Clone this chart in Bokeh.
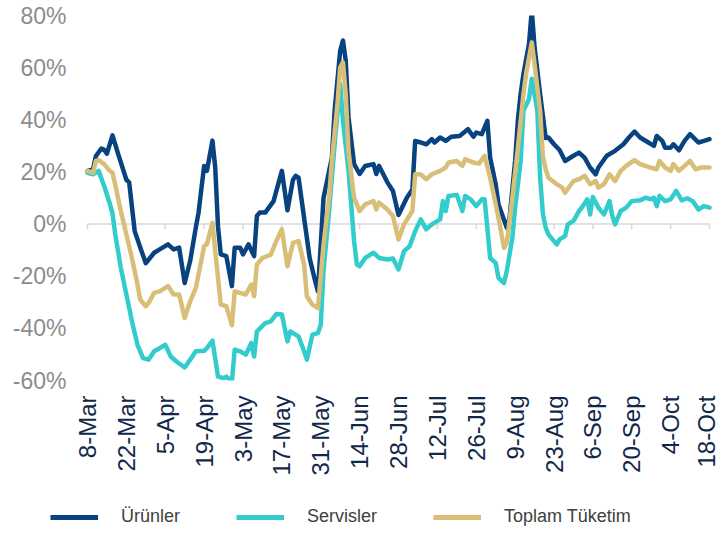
import math
from bokeh.plotting import figure
from bokeh.layouts import column
from bokeh.models import (Range1d, FixedTicker, LinearAxis, Legend, LegendItem, ColumnDataSource)
from bokeh.embed import file_html
from bokeh.resources import INLINE

# ---- data (days since 8-Mar, values in %) ----
urunler_days = [0, 2, 3, 5, 6, 7, 9, 11, 14, 15, 17, 19, 21, 24, 26, 29, 31, 33, 35, 37, 39, 40, 42, 43, 45, 46,
                47, 48, 50, 52, 53, 55, 56, 58, 60, 61, 62, 64, 67, 70, 72, 74, 75, 76, 79, 80, 82, 83, 85, 88,
                89, 91, 92, 93, 94, 96, 98, 100, 103, 104, 105, 108, 110, 112, 115, 117, 118, 120, 122, 124,
                125, 127, 129, 131, 134, 137, 139, 140, 142, 144, 145, 147, 148, 151, 152, 154, 155, 156, 157,
                159, 160, 161, 163, 165, 166, 168, 170, 172, 175, 177, 179, 181, 183, 184, 187, 190, 193, 195,
                197, 199, 202, 204, 205, 207, 208, 210, 211, 213, 215, 217, 220, 222, 224]
urunler_vals = [20.4, 21, 26, 29, 28.5, 27, 34, 27, 17, 16, -2.7, -9, -15, -11, -9.7, -7.8, -9.7, -9, -22.6, -14,
                -1.4, 4.4, 22.3, 20.4, 32, 21.7, -1, -11.6, -12.3, -23.8, -9.1, -9.1, -11.6, -7.8, -12.3, 3.1,
                4.4, 4.4, 8.8, 20.4, 5.3, 17, 18.5, 17.8, -5.3, -13, -21.9, -25.8, 10, 25.5, 43.5, 66.5, 70.4,
                62.7, 40.9, 23, 19.2, 22.3, 23, 19.2, 22.3, 16, 12.7, 3.5, 10.1, 13.3, 31.9, 31.3, 30.6, 32.6,
                31.3, 33.2, 31.9, 33.5, 33.8, 36.4, 33.5, 35.1, 34.5, 39.6, 25.5, 15.3, 7.6, -1.4, 2.4, 24.2, 40,
                50, 57.6, 69.1, 82, 67.8, 49.9, 33, 33.2, 30.6, 28.4, 24.2, 26.2, 27.4, 25.5, 21.7, 19.1, 21.7,
                26.2, 28.1, 30.6, 33.2, 35.5, 33.2, 31.3, 30, 33.8, 31.9, 29.3, 29.3, 30.6, 28.3, 31.9, 34.5,
                31.3, 31.9, 32.6]

servis_days = [0, 2, 4, 6, 8, 9, 10, 12, 14, 16, 18, 20, 22, 24, 26, 28, 30, 32, 35, 37, 39, 42, 43, 45, 47, 49,
               50, 52, 53, 55, 57, 59, 60, 61, 64, 66, 68, 70, 72, 73, 76, 78, 79, 81, 83, 84, 85, 87, 89, 91,
               92, 94, 96, 97, 98, 100, 103, 105, 108, 110, 112, 114, 116, 118, 120, 122, 124, 127, 128, 129,
               130, 133, 135, 136, 138, 140, 142, 143, 144, 145, 147, 148, 150, 151, 153, 154, 156, 157, 159,
               160, 162, 163, 164, 165, 166, 169, 170, 172, 173, 175, 177, 178, 180, 181, 182, 184, 186, 188,
               189, 190, 192, 194, 196, 199, 201, 203, 204, 205, 206, 208, 210, 212, 214, 216, 218, 220, 222, 224]
servis_vals = [19.7, 19.1, 20.4, 14.6, 8, 4, -4, -16.8, -27, -37.3, -46.3, -51.4, -52, -48.8, -47.6, -46.3,
               -50.8, -52.7, -55, -52, -48.8, -48.6, -47.6, -44.7, -58.5, -59.1, -58.5, -60.4, -48.2, -48.8,
               -50.1, -45.6, -50.8, -41.2, -38, -37.3, -34.5, -34.7, -45, -41.2, -43.1, -48.8, -52, -42.4,
               -41.8, -38.6, -18, 5, 30.6, 53.7, 39.6, 20.4, -6.5, -15.5, -16.2, -13, -11, -13, -13.6, -13.2,
               -17.4, -10.4, -8.5, -2.7, 1.8, -2, -0.1, 1.8, 8.8, 5, 10.8, 11.2, 5, 10.8, 9.5, 6.9, 9.5, 9.5,
               -1.4, -13, -14.9, -20.6, -22.6, -18, -5.3, 6.3, 24.2, 43.5, 48, 55.7, 43.5, 17.8, 4, -1.4, -4,
               -7.8, -5.9, -4.6, -0.1, 1.2, 5, 6.3, 9.5, 3.7, 10.4, 6.3, 3.7, 8.8, 3.1, -0.1, 5, 6.3, 8.8, 9.1,
               10.1, 9.5, 10.1, 6.9, 10.8, 8.8, 9.5, 12.7, 9.1, 9.9, 8.8, 5.6, 6.9, 6.3]

toplam_days = [0, 2, 3, 4, 6, 8, 9, 10, 12, 14, 16, 18, 19, 21, 22, 24, 26, 29, 31, 33, 35, 37, 39, 40, 42, 43,
               45, 46, 48, 50, 52, 53, 55, 57, 59, 60, 61, 63, 66, 68, 70, 72, 74, 76, 78, 79, 81, 83, 85, 87,
               88, 90, 91, 92, 93, 94, 96, 98, 100, 103, 104, 105, 108, 110, 112, 114, 117, 118, 120, 122, 124,
               127, 129, 130, 133, 135, 136, 139, 141, 143, 145, 147, 148, 150, 151, 153, 155, 157, 158, 160,
               161, 163, 164, 165, 166, 169, 171, 172, 175, 177, 179, 181, 183, 184, 186, 188, 190, 192, 194,
               197, 199, 202, 205, 206, 208, 210, 211, 213, 215, 217, 219, 221, 224]
toplam_vals = [20.4, 19.7, 24.2, 24.5, 23, 20.4, 19.7, 15, 5, -4, -13, -23.2, -29, -31.5, -30.3, -26.4, -25.8,
               -23.8, -27, -27, -36, -29.6, -24.5, -19.3, -8.5, -7.8, 0.5, -10.4, -30.9, -31.5, -38.8, -25.8,
               -26.4, -27, -23.2, -27.7, -15.5, -13, -11.7, -6.5, -2, -16.2, -7.2, -6.5, -15.5, -27.7, -30.9,
               -32.2, -7.8, 10.1, 24.2, 46, 60.1, 62, 49.9, 28.1, 10.1, 5, 7.6, 8.8, 5.6, 8.2, 5.6, 3.1, -5.9,
               -0.1, 5, 19.1, 19.1, 17.2, 19.1, 20.4, 21.7, 23.6, 24.2, 22.3, 24.9, 23.6, 23.2, 26.2, 17.8, 7.6,
               2.4, -9.1, -7.2, 10.1, 29.3, 49.9, 58, 69.7, 61.4, 43.5, 26, 21, 17.8, 15.3, 14, 12, 16.5, 17.2,
               18.5, 15.3, 16.5, 14, 15.3, 19.1, 16.5, 20.4, 22.3, 24.5, 23, 21.9, 21, 24.2, 21.7, 20.4, 23,
               20.4, 22.3, 24.2, 21, 21.7, 21.7]

x_tick_days = [0, 14, 28, 42, 56, 70, 84, 98, 112, 126, 140, 154, 168, 182, 196, 210, 224]
x_tick_labels = ["8-Mar", "22-Mar", "5-Apr", "19-Apr", "3-May", "17-May", "31-May", "14-Jun", "28-Jun",
                 "12-Jul", "26-Jul", "9-Aug", "23-Aug", "6-Sep", "20-Sep", "4-Oct", "18-Oct"]
y_ticks = [-60, -40, -20, 0, 20, 40, 60, 80]
y_tick_labels = ["-60%", "-40%", "-20%", "0%", "20%", "40%", "60%", "80%"]

series_names = ["Ürünler", "Servisler", "Toplam Tüketim"]
series_colors = ["#08437f", "#33cccc", "#d9be78"]

FONT = "Liberation Sans"
PX_PER_DAY = 622 / 224.0

# ---------------- main chart ----------------
p = figure(width=719, height=490, output_backend="svg", toolbar_location=None,
           x_range=Range1d(-3.0 / PX_PER_DAY, -3.0 / PX_PER_DAY + 632 / PX_PER_DAY),
           y_range=Range1d(-60, 80),
           min_border_left=84, min_border_right=3, min_border_top=15, min_border_bottom=110,
           x_axis_type=None, y_axis_type=None)
p.outline_line_color = None
p.xgrid.visible = False
p.ygrid.visible = False

# zero line with small downward ticks at the date ticks (beneath the data)
p.segment(x0=[x_tick_days[0]], y0=[0], x1=[x_tick_days[-1]], y1=[0],
          line_color="#d9d9d9", line_width=1.5, level="underlay")
p.segment(x0=x_tick_days, y0=[0] * len(x_tick_days), x1=x_tick_days, y1=[-2.0] * len(x_tick_days),
          line_color="#d9d9d9", line_width=1.5, level="underlay")

x_axis = LinearAxis(ticker=FixedTicker(ticks=x_tick_days),
                    major_label_overrides={d: l for d, l in zip(x_tick_days, x_tick_labels)},
                    axis_line_color=None, major_tick_line_color=None, minor_tick_line_color=None,
                    major_tick_out=0, major_tick_in=0, major_label_standoff=15,
                    major_label_orientation=math.pi / 2,
                    major_label_text_font=FONT, major_label_text_font_size="24px",
                    major_label_text_color="#12284a")
p.add_layout(x_axis, "below")

y_axis = LinearAxis(ticker=FixedTicker(ticks=y_ticks),
                    major_label_overrides={v: l for v, l in zip(y_ticks, y_tick_labels)},
                    axis_line_color=None, major_tick_line_color=None, minor_tick_line_color=None,
                    major_tick_out=0, major_tick_in=0, major_label_standoff=18,
                    major_label_text_font=FONT, major_label_text_font_size="23px",
                    major_label_text_color="#8c8c8c")
p.add_layout(y_axis, "left")

sources = []
for days, vals, col in [(urunler_days, urunler_vals, series_colors[0]),
                        (servis_days, servis_vals, series_colors[1]),
                        (toplam_days, toplam_vals, series_colors[2])]:
    src = ColumnDataSource(dict(x=days, y=vals))
    sources.append(src)
    p.line("x", "y", source=src, line_color=col, line_width=4.5, line_join="round", line_cap="round")

# ---------------- legend strip ----------------
pl = figure(width=719, height=46, output_backend="svg", toolbar_location=None,
            x_range=Range1d(1000, 1001), y_range=Range1d(1000, 1001),
            min_border_left=0, min_border_right=0, min_border_top=0, min_border_bottom=0,
            x_axis_type=None, y_axis_type=None)
pl.outline_line_color = None
pl.xgrid.visible = False
pl.ygrid.visible = False
if "frame_align" in pl.properties():
    pl.frame_align = False
    p.frame_align = False
    leg_x = 50
else:
    leg_x = 0
leg_renderers = [pl.line("x", "y", source=src, line_color=col, line_width=5)
                 for src, col in zip(sources, series_colors)]
legend = Legend(items=[LegendItem(label=n, renderers=[r]) for n, r in zip(series_names, leg_renderers)],
                orientation="horizontal", location=(leg_x, 9),
                glyph_width=48, glyph_height=20, label_standoff=23, spacing=56,
                label_text_font=FONT, label_text_font_size="18px", label_text_color="#404040",
                padding=0, margin=0, border_line_color=None, background_fill_alpha=0)
pl.add_layout(legend, "center")

layout = column(p, pl, spacing=0)
open("out.html", "w").write(file_html(layout, INLINE))
